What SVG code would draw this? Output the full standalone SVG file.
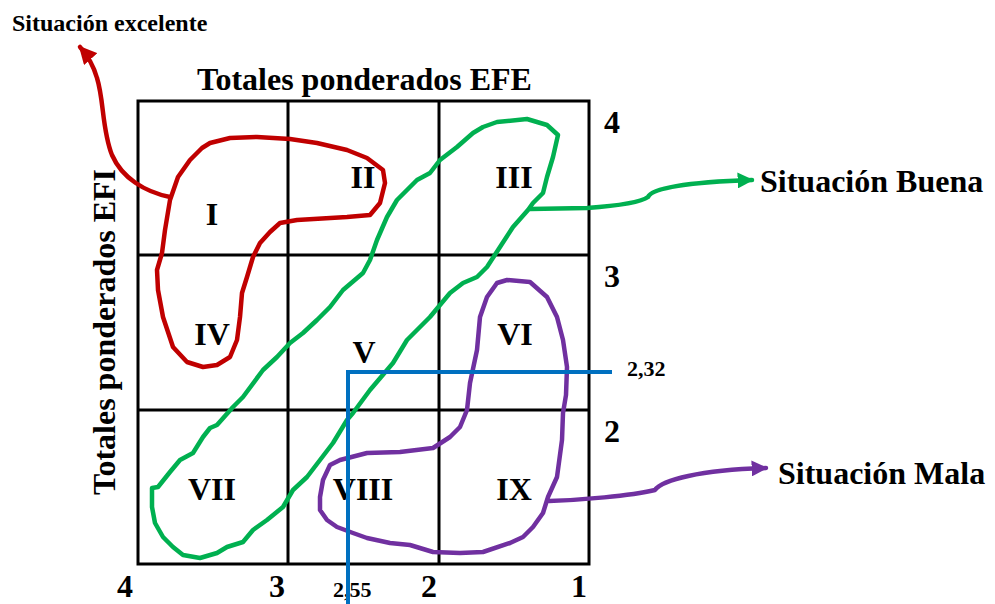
<svg xmlns="http://www.w3.org/2000/svg" width="995" height="604" viewBox="0 0 995 604">
<style>
text{font-family:"Liberation Serif","Times New Roman",serif;font-weight:bold;fill:#000}
.big{font-size:32px}
.cell{font-size:32px;text-anchor:middle}
.sm{font-size:22px}
.grid{stroke:#000;stroke-width:3;fill:none}
.hand{fill:none;stroke-width:4.5;stroke-linejoin:round;stroke-linecap:round}
.red{stroke:#C00000}.green{stroke:#00B050}.purple{stroke:#7030A0}
.blue{stroke:#0070C0;stroke-width:4;fill:none}
</style>
<defs>
<marker id="aR" viewBox="0 0 10 10" refX="9" refY="5" markerUnits="userSpaceOnUse" markerWidth="18" markerHeight="18" orient="auto"><path d="M0,0 L10,5 L0,10 z" fill="#C00000"/></marker>
<marker id="aG" viewBox="0 0 10 10" refX="9" refY="5" markerUnits="userSpaceOnUse" markerWidth="16" markerHeight="16" orient="auto"><path d="M0,0 L10,5 L0,10 z" fill="#00B050"/></marker>
<marker id="aP" viewBox="0 0 10 10" refX="9" refY="5" markerUnits="userSpaceOnUse" markerWidth="16" markerHeight="16" orient="auto"><path d="M0,0 L10,5 L0,10 z" fill="#7030A0"/></marker>
</defs>
<rect width="995" height="604" fill="#fff"/>

<g id="grid">
<rect class="grid" x="138" y="101" width="451" height="463"/>
<line class="grid" x1="288" y1="101" x2="288" y2="564"/>
<line class="grid" x1="439" y1="101" x2="439" y2="564"/>
<line class="grid" x1="138" y1="255" x2="589" y2="255"/>
<line class="grid" x1="138" y1="410" x2="589" y2="410"/>
</g>

<g id="axes">
<text class="big" x="197" y="90">Totales ponderados EFE</text>
<text class="big" transform="translate(115,495) rotate(-90)">Totales ponderados EFI</text>
<text class="big" x="612" y="133" text-anchor="middle">4</text>
<text class="big" x="612" y="287" text-anchor="middle">3</text>
<text class="big" x="612" y="442" text-anchor="middle">2</text>
<text class="big" x="125" y="597" text-anchor="middle">4</text>
<text class="big" x="277" y="597" text-anchor="middle">3</text>
<text class="big" x="429" y="597" text-anchor="middle">2</text>
<text class="big" x="579" y="597" text-anchor="middle">1</text>
</g>

<g id="cells">
<text class="cell" x="212" y="225">I</text>
<text class="cell" x="363" y="188">II</text>
<text class="cell" x="514" y="188">III</text>
<text class="cell" x="212" y="345">IV</text>
<text class="cell" x="364" y="363">V</text>
<text class="cell" x="515" y="345">VI</text>
<text class="cell" x="212" y="500">VII</text>
<text class="cell" x="363" y="500">VIII</text>
<text class="cell" x="514" y="500">IX</text>
</g>

<g id="region-excelente">
<path class="hand red" d="M157,270 L162,253 L165,230 L170,200 L178,177 L190,160 L202,148 L210,143 L230,138 L257,137 L290,139 L317,143 L347,150 L367,158 L383,170 L385,183 L380,203 L370,215 L347,217 L297,220 L280,223 L270,232 L260,243 L253,257 L247,277 L242,293 L240,317 L237,340 L230,357 L217,365 L203,367 L187,362 L173,347 L163,317 L158,290 Z"/>
</g>

<g id="region-buena">
<path class="hand green" d="M497,122 L527,119 L547,125 L558,135 L553,157 L547,177 L543,193 L533,203 L528,210 L513,227 L500,247 L487,267 L477,277 L463,283 L450,293 L430,317 L407,340 L393,363 L370,390 L353,413 L347,420 L333,443 L320,460 L307,477 L293,490 L283,507 L267,520 L253,530 L243,542 L227,547 L217,553 L200,558 L183,555 L173,547 L163,537 L155,523 L152,507 L152,488 L158,487 L170,472 L180,460 L193,453 L203,437 L210,428 L217,425 L233,407 L243,397 L263,370 L277,357 L290,343 L303,333 L317,320 L330,307 L343,290 L363,273 L370,260 L377,240 L387,217 L397,200 L407,190 L417,180 L430,173 L440,160 L457,147 L473,133 L483,127 Z"/>
</g>

<g id="region-mala">
<path class="hand purple" d="M507,280 L530,282 L547,297 L557,317 L563,340 L567,367 L566,395 L563,413 L562,440 L557,477 L548,497 L543,513 L533,527 L523,537 L510,543 L483,552 L460,553 L433,552 L410,545 L390,543 L367,538 L353,533 L337,527 L327,520 L320,510 L320,497 L323,480 L330,465 L340,460 L367,453 L400,452 L433,448 L450,437 L460,427 L467,410 L470,383 L477,350 L480,317 L487,297 L497,283 Z"/>
</g>

<g id="thresholds">
<text class="sm" x="333" y="597">2,55</text>
<path class="blue" d="M612,372 L348,372 L348,604"/>
<text class="sm" x="627" y="376">2,32</text>
</g>

<g id="connectors">
<path class="hand red" marker-end="url(#aR)" d="M170,197 C145,192 122,178 112,155 C102,130 104,100 97,78 C93,64 88,56 80,47"/>
<path class="hand green" marker-end="url(#aG)" d="M530,209 L587,208 C615,206 640,203 648,197 C652,188 690,182 752,180"/>
<path class="hand purple" marker-end="url(#aP)" d="M549,501 C580,500 630,496 655,490 C662,480 700,470 766,468"/>
</g>

<g id="labels">
<text x="12" y="31" font-size="24">Situación excelente</text>
<text class="big" x="760" y="192">Situación Buena</text>
<text class="big" x="778" y="484">Situación Mala</text>
</g>
</svg>
